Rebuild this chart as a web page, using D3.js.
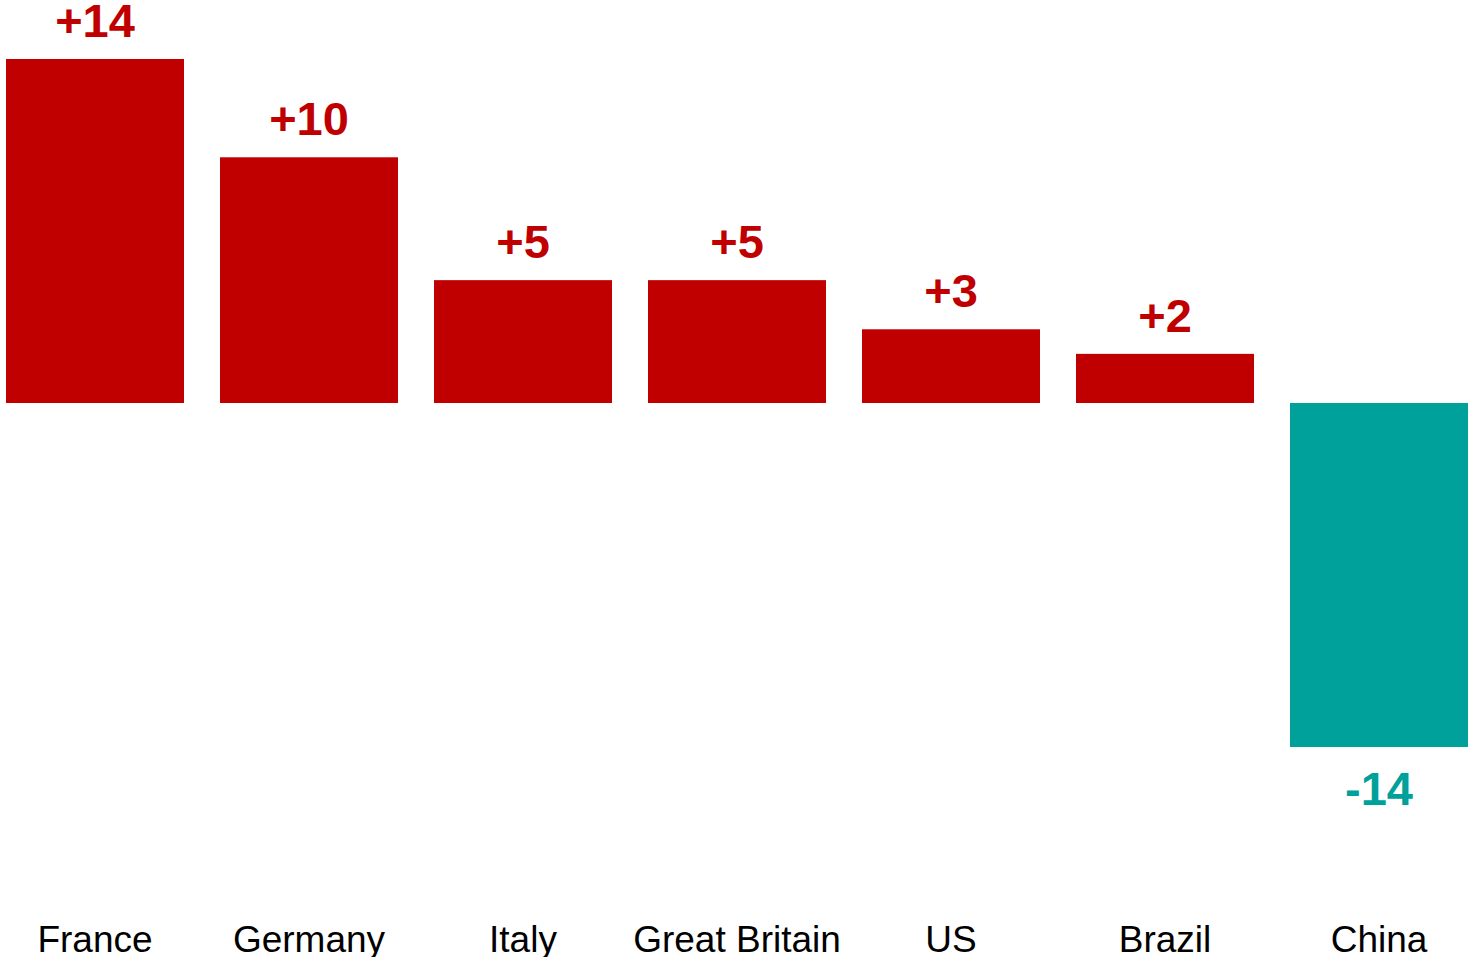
<!DOCTYPE html>
<html>
<head>
<meta charset="utf-8">
<script src="https://cdn.jsdelivr.net/npm/d3@7"></script>
<style>
  body { margin: 0; background: #fff; }
  text { font-family: "Liberation Sans", Arial, sans-serif; }
</style>
</head>
<body>
<div id="chart"></div>
<script>
// Data
var countries = ["France", "Germany", "Italy", "Great Britain", "US", "Brazil", "China"];
var changes = [14, 10, 5, 5, 3, 2, -14];

var width = 1470, height = 957;

var svg = d3.select("#chart").append("svg")
    .attr("width", width)
    .attr("height", height);

// Scales
var x = d3.scaleBand()
    .domain(countries)
    .range([6, 1468])
    .paddingInner(36 / 214)
    .paddingOuter(0);

var y = d3.scaleLinear()
    .domain([-14, 14])
    .range([747, 59]);

var data = countries.map(function(c, i) { return { country: c, value: changes[i] }; });

function colorOf(v) { return v >= 0 ? "#C00000" : "#00A09B"; }

// Bars
svg.selectAll(".bar")
    .data(data)
    .enter().append("rect")
    .attr("class", "bar")
    .attr("x", function(d) { return x(d.country); })
    .attr("width", x.bandwidth())
    .attr("y", function(d) { return y(Math.max(0, d.value)); })
    .attr("height", function(d) { return Math.abs(y(d.value) - y(0)); })
    .style("fill", function(d) { return colorOf(d.value); });

// Value labels
svg.selectAll(".val")
    .data(data)
    .enter().append("text")
    .attr("class", "val")
    .attr("x", function(d) { return x(d.country) + x.bandwidth() / 2; })
    .attr("y", function(d) { return d.value >= 0 ? y(d.value) - 22 : y(d.value) + 58; })
    .attr("text-anchor", "middle")
    .style("font-size", "47px")
    .style("font-weight", "bold")
    .style("fill", function(d) { return colorOf(d.value); })
    .text(function(d) { return (d.value > 0 ? "+" : "") + d.value; });

// Category labels
svg.selectAll(".cat")
    .data(data)
    .enter().append("text")
    .attr("class", "cat")
    .attr("x", function(d) { return x(d.country) + x.bandwidth() / 2; })
    .attr("y", 952)
    .attr("text-anchor", "middle")
    .style("font-size", "37px")
    .style("fill", "#000")
    .text(function(d) { return d.country; });
</script>
</body>
</html>
